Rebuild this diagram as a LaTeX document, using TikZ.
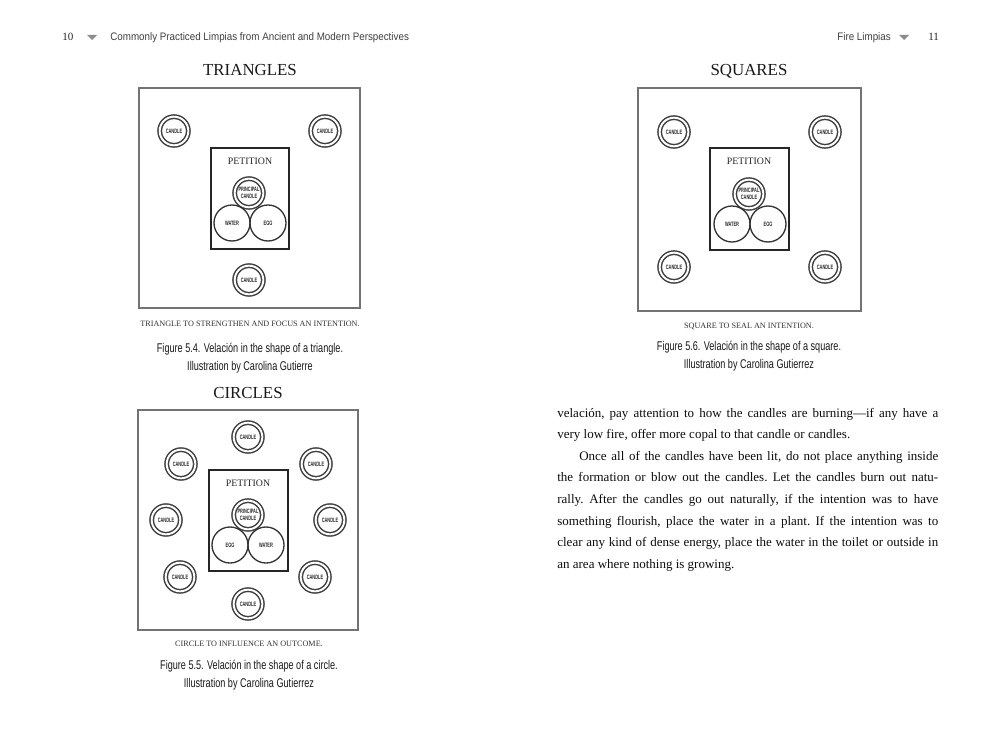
\documentclass[tikz,border=0pt]{standalone}
\usepackage{fontspec}
\setmainfont{Liberation Serif}
\newfontfamily\headfont[FakeStretch=0.9]{Liberation Sans}
\newfontfamily\capfont[FakeStretch=0.72]{Liberation Sans}
\newfontfamily\tagfont[FakeStretch=0.62]{Liberation Sans}

\begin{document}
\begin{tikzpicture}[x=0.02cm, y=-0.02cm,
    frame/.style={draw=black!55, line width=0.85pt},
    petbox/.style={draw=black!85, line width=0.8pt},
    candle/.style={circle, draw=black!75, line width=0.85pt, double=white, double distance=1.1pt,
        minimum size=16.3pt, inner sep=0pt, align=center, text=black!85,
        font=\tagfont\bfseries\fontsize{3.6pt}{3.9pt}\selectfont},
    bowl/.style={circle, draw=black!80, line width=0.75pt, minimum size=20.5pt, inner sep=0pt,
        text=black!85, font=\tagfont\bfseries\fontsize{3.6pt}{3.9pt}\selectfont},
    title/.style={anchor=base, inner sep=0pt, text=black!90, font=\fontsize{9.6pt}{11pt}\selectfont},
    petition/.style={anchor=base, inner sep=0pt, text=black!85, font=\fontsize{5.6pt}{6pt}\selectfont},
    note/.style={anchor=base, inner sep=0pt, text=black!80, font=\fontsize{4.65pt}{5pt}\selectfont},
    figcap/.style={anchor=base, inner sep=0pt, text=black!90, font=\capfont\fontsize{7.2pt}{8pt}\selectfont},
    header/.style={anchor=base west, inner sep=0pt, text=black!75, font=\headfont\fontsize{6.2pt}{7pt}\selectfont},
    folio/.style={anchor=base west, inner sep=0pt, text=black!85, font=\fontsize{6.3pt}{7pt}\selectfont},
    body/.style={anchor=base west, inner sep=0pt, text width=216.8pt, align=justify, text=black!95,
        font=\frenchspacing\fontsize{7.4pt}{12.3pt}\selectfont}]

    \fill[white] (0,0) rectangle (1000,750);
    \useasboundingbox (0,0) rectangle (1000,750);

    % running heads
    \node[folio] (lfolio) at (62,41) {10};
    \fill[black!45] (87,35) -- (97,35) -- (92,40) -- cycle;
    \node[header] (lhead) at (110,41) {Commonly Practiced Limpias from Ancient and Modern Perspectives};
    \node[header] (rhead) at (837,41) {Fire Limpias};
    \fill[black!45] (899,35) -- (909,35) -- (904,40) -- cycle;
    \node[folio] (rfolio) at (928,41) {11};

    % triangle
    \node[title] (tri-title) at (250,76) {TRIANGLES};
    \draw[frame] (139,88) rectangle (360,308);
    \draw[petbox] (211,148) rectangle (289,249);
    \node[petition] (tri-pet) at (250,164) {PETITION};
    \node[candle] (tri-main) at (249,193) {PRINCIPAL\\CANDLE};
    \node[bowl] (tri-water) at (232,223) {WATER};
    \node[bowl] (tri-egg) at (268,223) {EGG};
    \node[candle] (tri-c1) at (174,131) {CANDLE};
    \node[candle] (tri-c2) at (325,131) {CANDLE};
    \node[candle] (tri-c3) at (249,280) {CANDLE};
    \node[note] (tri-note) at (250,326) {TRIANGLE TO STRENGTHEN AND FOCUS AN INTENTION.};
    \node[figcap] (tri-fig) at (250,352) {Figure 5.4. Velación in the shape of a triangle.};
    \node[figcap] (tri-credit) at (250,370) {Illustration by Carolina Gutierre};

    % circle
    \node[title] (cir-title) at (248,398) {CIRCLES};
    \draw[frame] (138,410) rectangle (358,630);
    \draw[petbox] (209,470) rectangle (288,571);
    \node[petition] (cir-pet) at (248,486) {PETITION};
    \node[candle] (cir-main) at (248,515) {PRINCIPAL\\CANDLE};
    \node[bowl] (cir-egg) at (230,545) {EGG};
    \node[bowl] (cir-water) at (266,545) {WATER};
    \node[candle] (cir-c1) at (248,437) {CANDLE};
    \node[candle] (cir-c2) at (316,464) {CANDLE};
    \node[candle] (cir-c3) at (330,520) {CANDLE};
    \node[candle] (cir-c4) at (315,577) {CANDLE};
    \node[candle] (cir-c5) at (248,604) {CANDLE};
    \node[candle] (cir-c6) at (180,577) {CANDLE};
    \node[candle] (cir-c7) at (166,520) {CANDLE};
    \node[candle] (cir-c8) at (181,464) {CANDLE};
    \node[note] (cir-note) at (249,646) {CIRCLE TO INFLUENCE AN OUTCOME.};
    \node[figcap] (cir-fig) at (249,669) {Figure 5.5. Velación in the shape of a circle.};
    \node[figcap] (cir-credit) at (249,687) {Illustration by Carolina Gutierrez};

    % square
    \node[title] (sq-title) at (749,76) {SQUARES};
    \draw[frame] (638,88) rectangle (861,311);
    \draw[petbox] (710,148) rectangle (789,250);
    \node[petition] (sq-pet) at (749,164) {PETITION};
    \node[candle] (sq-main) at (749,194) {PRINCIPAL\\CANDLE};
    \node[bowl] (sq-water) at (732,224) {WATER};
    \node[bowl] (sq-egg) at (768,224) {EGG};
    \node[candle] (sq-c1) at (674,132) {CANDLE};
    \node[candle] (sq-c2) at (825,132) {CANDLE};
    \node[candle] (sq-c3) at (674,267) {CANDLE};
    \node[candle] (sq-c4) at (825,267) {CANDLE};
    \node[note] (sq-note) at (749,328) {SQUARE TO SEAL AN INTENTION.};
    \node[figcap] (sq-fig) at (749,350) {Figure 5.6. Velación in the shape of a square.};
    \node[figcap] (sq-credit) at (749,368) {Illustration by Carolina Gutierrez};

    % running text
    \node[body] (text) at (557,417) {velación, pay attention to how the candles are burning—if any have a\linebreak
        very low fire, offer more copal to that candle or candles.\par
        \hspace*{12.5pt}Once all of the candles have been lit, do not place anything inside\linebreak
        the formation or blow out the candles. Let the candles burn out natu-\linebreak
        rally. After the candles go out naturally, if the intention was to have\linebreak
        something flourish, place the water in a plant. If the intention was to\linebreak
        clear any kind of dense energy, place the water in the toilet or outside in\linebreak
        an area where nothing is growing.};
\end{tikzpicture}
\end{document}
